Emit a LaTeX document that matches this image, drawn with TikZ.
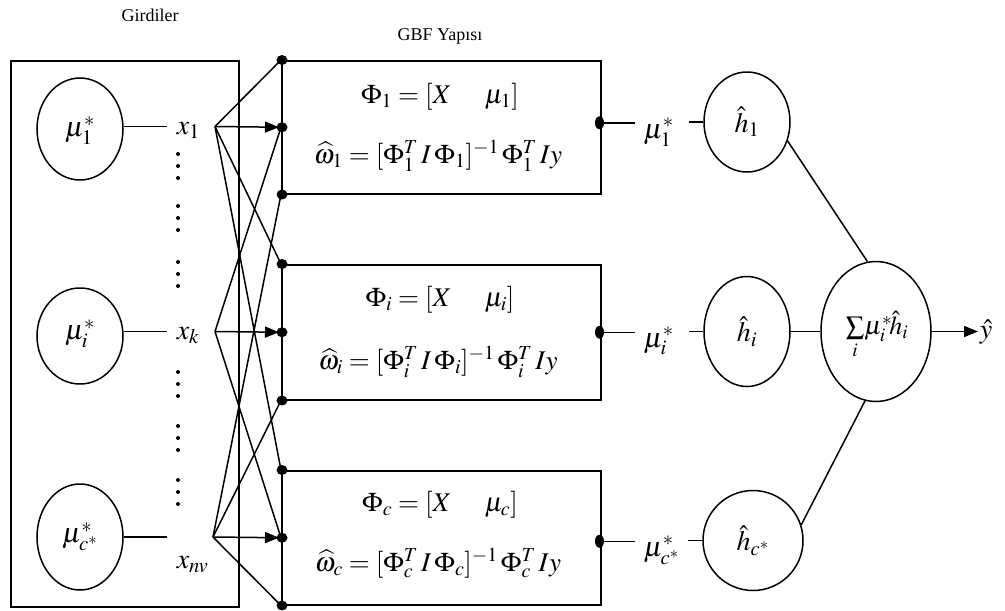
\documentclass[tikz,border=0pt]{standalone}
\usepackage{mathptmx}
\usepackage{fontspec}
\setmainfont{Liberation Serif}
\usetikzlibrary{arrows.meta,shapes.geometric}
\begin{document}
\begin{tikzpicture}[x=1pt,y=-1pt,line width=1.5pt,
  oval/.style={draw,ellipse,inner sep=0pt},
  stagebox/.style={draw,rectangle,anchor=north west,minimum width=319pt,inner sep=0pt},
  bigm/.style={font=\fontsize{28}{30}\selectfont},
  frm/.style={font=\fontsize{27}{30}\selectfont},
  lbl/.style={font=\fontsize{18}{20}\selectfont},
  arr/.style={-{Triangle[length=14pt,width=11pt]}}]
\useasboundingbox (0,0) rectangle (1005,611);

% titles
\node[lbl] (gird) at (150,15) {Girdiler};
\node[lbl] (gbf) at (440,36) {GBF Yapısı};

% input panel
\node[draw,rectangle,anchor=north west,minimum width=228pt,minimum height=546pt,inner sep=0pt] (inbox) at (10,60) {};
\node[oval,minimum width=86pt,minimum height=102pt] (e1) at (80,129) {};
\node[oval,minimum width=86pt,minimum height=96pt] (e2) at (80,336) {};
\node[oval,minimum width=86pt,minimum height=106pt] (e3) at (80,537) {};
\node[bigm] (m1) at (80,131) {$\mu_1^{*}$};
\node[bigm] (m2) at (80,334) {$\mu_i^{*}$};
\node[bigm] (m3) at (80,537) {$\mu_{c^{*}}^{*}$};

\coordinate (x1in) at (167,126.5);
\coordinate (xkin) at (167,331.5);
\coordinate (xnin) at (167,537);
\coordinate (x1o) at (215,126.5);
\coordinate (xko) at (215,331.5);
\coordinate (xno) at (213,537);
\draw (e1.east |- x1in) -- (x1in);
\draw (e2.east |- xkin) -- (xkin);
\draw (e3.east |- xnin) -- (xnin);
\node[bigm,anchor=base west,inner sep=0pt] (x1) at (176,134) {$x_1$};
\node[bigm,anchor=base west,inner sep=0pt] (xk) at (176,339) {$x_k$};
\node[bigm,anchor=base west,inner sep=0pt] (xn) at (176,568) {$x_{nv}$};

% vertical dots
\foreach \yy in {154,166,178, 206,218,230, 262,274,286, 372,384,396, 426,438,450, 480,492,504}
  \fill (178,\yy) circle (2pt);

% stage boxes
\node[stagebox,minimum height=133pt] (b1) at (281,60) {};
\node[stagebox,minimum height=135pt] (b2) at (281,264) {};
\node[stagebox,minimum height=134pt] (b3) at (281,470) {};

\node[frm] (f1a) at (440,97) {$\Phi_{1} = [X\quad\; \mu_{1}]$};
\node[frm] (f1b) at (438,156) {$\widehat{\omega}_{1} = [\Phi_1^{T}\, I\,\Phi_1]^{-1}\,\Phi_1^{T}\, I y$};
\node[frm] (f2a) at (440,300) {$\Phi_{i} = [X\quad\; \mu_{i}]$};
\node[frm] (f2b) at (438,362) {$\widehat{\omega}_{i} = [\Phi_i^{T}\, I\,\Phi_i]^{-1}\,\Phi_i^{T}\, I y$};
\node[frm] (f3a) at (440,505) {$\Phi_{c} = [X\quad\; \mu_{c}]$};
\node[frm] (f3b) at (438,563) {$\widehat{\omega}_{c} = [\Phi_c^{T}\, I\,\Phi_c]^{-1}\,\Phi_c^{T}\, I y$};

% fan connectors
\draw (x1o) -- (b1.north west);
\draw[arr,shorten >=2pt] (x1o) -- (b1.west);
\draw (x1o) -- (b2.north west);
\draw (x1o) -- (b3.north west);
\draw (xko) -- (b1.west);
\draw[arr,shorten >=2pt] (xko) -- (b2.west);
\draw (xko) -- (b3.west);
\draw (xno) -- (b1.south west);
\draw (xno) -- (b2.south west);
\draw[arr,shorten >=2pt] (xno) -- (b3.west);
\draw (xno) -- (b3.south west);

\foreach \p in {b1.north west,b1.west,b1.south west,b2.north west,b2.west,b2.south west,b3.north west,b3.west,b3.south west}
  \fill ([xshift=1pt]\p) ellipse [x radius=5.5pt,y radius=5pt];

% outputs
\coordinate (o1) at ([yshift=4.5pt]b1.east);
\coordinate (o2) at (b2.east);
\coordinate (o3) at ([yshift=-3.5pt]b3.east);
\foreach \p in {o1,o2,o3}
  \fill ([xshift=-2pt]\p) ellipse [x radius=4.5pt,y radius=6.5pt];

\node[oval,bigm,minimum width=86pt,minimum height=100pt] (h1) at (747,122) {$\hat h_1$};
\node[oval,bigm,minimum width=86pt,minimum height=110pt] (hi) at (747,331.5) {$\hat h_i$};
\node[oval,bigm,minimum width=100pt,minimum height=100pt] (hc) at (753,540.5) {$\hat h_{c^{*}}$};
\node[oval,minimum width=110pt,minimum height=140pt] (S) at (876,331.5) {};

\draw (o1) -- ++(33,0);
\draw (o2) -- ++(33,0);
\draw (o3) -- ++(33,0);
\draw (h1.west) -- ++(-14,0);
\draw (hi.west) -- ++(-14,0);
\draw (hc.west) -- ++(-14,0);
\node[bigm,anchor=base west,inner sep=0pt] (n1) at (643,138) {$\mu_1^{*}$};
\node[bigm,anchor=base west,inner sep=0pt] (n2) at (643,347) {$\mu_i^{*}$};
\node[bigm,anchor=base west,inner sep=0pt] (n3) at (643,556) {$\mu_{c^{*}}^{*}$};

\draw (h1.-25) -- (S.97);
\draw (hi.east) -- (S.west);
\draw (hc.18) -- (S.-99);

\node[font=\fontsize{26}{28}\selectfont,inner sep=0pt] (sl) at (877,335) {$\sum\limits_{i}\!\mu_i^{*}\!\hat h_i$};
\coordinate (yend) at (978,331.5);
\draw[arr] (S.east) -- (yend);
\node[bigm,anchor=west,inner sep=1pt] (yhat) at (yend) {$\hat y$};
\end{tikzpicture}
\end{document}
